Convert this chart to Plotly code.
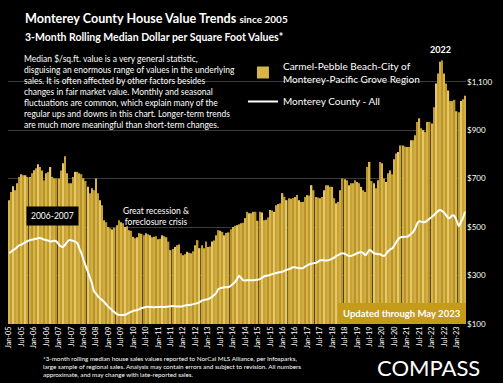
import plotly.graph_objects as go

# ---------------- data ----------------
month_names = ["Jan", "Feb", "Mar", "Apr", "May", "Jun", "Jul", "Aug", "Sep", "Oct", "Nov", "Dec"]
years = list(range(2005, 2024))
months = [f"{m}-{str(y)[2:]}" for y in years for m in month_names][:221]  # Jan-05 .. May-23

# Carmel-Pebble Beach-City of Monterey-Pacific Grove Region, $/sq.ft. (3-mo rolling median)
region_values = [
    611, 645, 669, 652, 681, 707, 718, 714, 714, 707, 707, 722,      # 2005
    735, 743, 759, 748, 734, 693, 722, 727, 748, 707, 701, 701,      # 2006
    701, 734, 763, 792, 722, 681, 681, 707, 728, 728, 722, 718,      # 2007
    701, 690, 666, 640, 660, 652, 701, 640, 611, 590, 528, 520,      # 2008
    500, 495, 490, 497, 508, 528, 520, 516, 500, 503, 487, 485,      # 2009
    460, 454, 458, 475, 472, 466, 475, 470, 466, 458, 460, 462,      # 2010
    450, 452, 466, 462, 458, 440, 405, 410, 418, 425, 428, 392,      # 2011
    384, 388, 398, 394, 392, 400, 425, 446, 413, 425, 413, 440,      # 2012
    418, 420, 440, 445, 466, 487, 485, 480, 466, 476, 478, 491,      # 2013
    500, 505, 508, 512, 516, 518, 537, 563, 557, 557, 563, 563,      # 2014
    526, 563, 560, 528, 530, 540, 570, 568, 563, 590, 595, 598,      # 2015
    640, 625, 611, 619, 617, 620, 624, 632, 611, 604, 604, 624,      # 2016
    632, 630, 673, 652, 624, 622, 619, 624, 652, 673, 673, 666,      # 2017
    666, 619, 598, 604, 652, 701, 697, 693, 673, 681, 681, 693,      # 2018
    686, 681, 666, 652, 645, 748, 769, 690, 681, 660, 693, 769,      # 2019
    763, 701, 686, 722, 734, 718, 780, 804, 810, 837, 837, 833,      # 2020
    830, 830, 858, 858, 879, 934, 949, 908, 900, 892, 934, 934,      # 2021
    928, 995, 1093, 1134, 1182, 1188, 1134, 1093, 1064, 1020, 1020, 1025,  # 2022
    978, 974, 1020, 1028, 1042,                                      # 2023
]

# Monterey County - All, $/sq.ft.
county_values = [
    392, 398, 405, 410, 418, 425, 428, 433, 438, 442, 446, 448,      # 2005
    450, 452, 454, 455, 452, 448, 446, 444, 440, 442, 444, 440,      # 2006
    428, 420, 418, 426, 438, 446, 446, 442, 440, 433, 410, 390,      # 2007
    363, 340, 315, 292, 268, 235, 225, 213, 205, 198, 190, 180,      # 2008
    170, 163, 155, 148, 141, 138, 137, 137, 138, 142, 147, 151,      # 2009
    154, 156, 158, 162, 166, 168, 170, 171, 170, 170, 169, 170,      # 2010
    170, 171, 170, 170, 171, 172, 173, 174, 173, 172, 172, 172,      # 2011
    174, 176, 178, 178, 180, 182, 184, 186, 190, 196, 199, 201,      # 2012
    203, 207, 212, 220, 228, 244, 248, 250, 252, 252, 253, 258,      # 2013
    265, 273, 285, 299, 290, 280, 280, 281, 281, 281, 281, 282,      # 2014
    283, 285, 290, 296, 299, 300, 303, 306, 308, 311, 313, 314,      # 2015
    316, 320, 324, 326, 330, 334, 334, 332, 330, 330, 332, 338,      # 2016
    342, 347, 349, 351, 352, 356, 363, 363, 363, 362, 363, 366,      # 2017
    370, 375, 381, 385, 390, 392, 390, 385, 381, 381, 384, 388,      # 2018
    392, 395, 397, 392, 384, 395, 405, 400, 392, 390, 388, 388,      # 2019
    383, 381, 390, 401, 408, 413, 425, 440, 452, 458, 459, 460,      # 2020
    460, 465, 472, 480, 495, 516, 524, 522, 520, 522, 528, 535,      # 2021
    542, 549, 558, 566, 570, 566, 559, 548, 537, 540, 549, 545,      # 2022
    526, 504, 520, 537, 563,                                         # 2023
]

tick_labels = [f"{m}-{str(y)[2:]}" for y in range(2005, 2024) for m in ("Jan", "Jul")][:37]
y_ticks = [100, 300, 500, 700, 900, 1100]
y_tick_labels = ["$100", "$300", "$500", "$700", "$900", "$1,100"]

# ---------------- styling helpers ----------------
W, H = 503, 383
L, R, T, B = 4, 37, 45, 59
PW, PH = W - L - R, H - T - B
FONT = "Lato"


def px(xp):
    return (xp - L) / PW


def py(yp):
    return (H - B - yp) / PH


gold_cycle = ["#D8B548", "#BF9A2E", "#E6C866", "#C7A236", "#D1AE44", "#B8932A"]
bar_colors = [gold_cycle[i % len(gold_cycle)] for i in range(len(months))]

fig = go.Figure()
fig.add_trace(go.Bar(
    x=months, y=region_values,
    name="Carmel-Pebble Beach-City of<br>Monterey-Pacific Grove Region",
    marker=dict(color=bar_colors, line=dict(width=0)),
    legendgroup="a",
))
fig.add_trace(go.Scatter(
    x=months, y=county_values, mode="lines",
    name="Monterey County - All",
    line=dict(color="white", width=2, shape="spline", smoothing=0.6),
    legendgroup="b",
))

fig.update_layout(
    width=W, height=H,
    margin=dict(l=L, r=R, t=T, b=B),
    paper_bgcolor="black", plot_bgcolor="black",
    bargap=0.28,
    font=dict(family=FONT, color="white"),
    showlegend=True,
    legend=dict(
        x=px(241), y=py(53), xanchor="left", yanchor="top",
        bgcolor="rgba(0,0,0,0)",
        font=dict(size=10, color="white", family=FONT),
        tracegroupgap=5, itemwidth=30,
    ),
    xaxis=dict(
        type="category",
        tickmode="array", tickvals=tick_labels, ticktext=tick_labels,
        tickangle=-90, tickfont=dict(size=7.3, color="white", family=FONT),
        showgrid=False, zeroline=False, showline=False,
        ticks="", range=[-0.5, len(months) - 0.5],
    ),
    yaxis=dict(
        side="right", range=[100, 100 + PH / 0.2423],
        tickmode="array", tickvals=y_ticks, ticktext=y_tick_labels,
        tickfont=dict(size=8, color="white", family=FONT),
        showgrid=True, gridcolor="#3a3a3a", gridwidth=1,
        zeroline=False, showline=False, ticks="",
    ),
)

ann = []
# Title
ann.append(dict(x=px(19), y=py(18), xref="paper", yref="paper", xanchor="left", yanchor="middle",
                text="<b>Monterey County House Value Trends</b> <b><span style='font-size:10px'>since 2005</span></b>",
                showarrow=False, font=dict(size=12.6, color="white", family=FONT)))
ann.append(dict(x=px(19), y=py(37), xref="paper", yref="paper", xanchor="left", yanchor="middle",
                text="<b>3-Month Rolling Median Dollar per Square Foot Values*</b>",
                showarrow=False, font=dict(size=10.5, color="white", family=FONT)))
# Paragraph
para = ("Median $/sq.ft. value is a very general statistic,<br>"
        "disguising an enormous range of values in the underlying<br>"
        "sales. It is often affected by other factors besides<br>"
        "changes in fair market value. Monthly and seasonal<br>"
        "fluctuations are common, which explain many of the<br>"
        "regular ups and downs in this chart. Longer-term trends<br>"
        "are much more meaningful than short-term changes.")
ann.append(dict(x=px(18), y=py(52), xref="paper", yref="paper", xanchor="left", yanchor="top",
                text=para, align="left", showarrow=False,
                font=dict(size=8.5, color="white", family=FONT)))
# 2022 label
ann.append(dict(x=px(440), y=py(49), xref="paper", yref="paper", xanchor="center", yanchor="middle",
                text="<b>2022</b>", showarrow=False, font=dict(size=9, color="white", family=FONT)))
# 2006-2007 box
ann.append(dict(x=px(49), y=py(216), xref="paper", yref="paper", xanchor="center", yanchor="middle",
                text="2006-2007", showarrow=False, bgcolor="black", borderpad=4,
                font=dict(size=8.5, color="white", family=FONT)))
# Great recession
ann.append(dict(x=px(153), y=py(216), xref="paper", yref="paper", xanchor="center", yanchor="middle",
                text="Great recession &amp;<br>foreclosure crisis", showarrow=False,
                font=dict(size=8.5, color="white", family=FONT)))
# Updated box text
ann.append(dict(x=px(401), y=py(313.5), xref="paper", yref="paper", xanchor="center", yanchor="middle",
                text="<b>Updated through May 2023</b>", showarrow=False,
                font=dict(size=9.5, color="white", family=FONT)))
# Footnote
foot = ("*3-month rolling median house sales values reported to NorCal MLS Alliance, per Infosparks,<br>"
        "large sample of regional sales. Analysis may contain errors and subject to revision. All numbers<br>"
        "approximate, and may change with late-reported sales.")
ann.append(dict(x=px(37), y=py(353), xref="paper", yref="paper", xanchor="left", yanchor="top",
                text=foot, align="left", showarrow=False,
                font=dict(size=6.3, color="white", family=FONT)))
# COMPASS logo text
ann.append(dict(x=px(374), y=py(367), xref="paper", yref="paper", xanchor="left", yanchor="middle",
                text="COMPASS", showarrow=False,
                font=dict(size=22, color="white", family=FONT)))

fig.update_layout(annotations=ann)

fig.update_layout(shapes=[
    dict(type="rect", xref="paper", yref="paper", layer="above",
         x0=px(337), x1=1.0, y0=0, y1=py(303),
         fillcolor="#C49B1A", line=dict(width=0)),
])

fig.write_html(
    "out.html",
    config={"displayModeBar": False},
    post_script="document.body.style.margin='0';document.body.style.overflow='hidden';",
)
